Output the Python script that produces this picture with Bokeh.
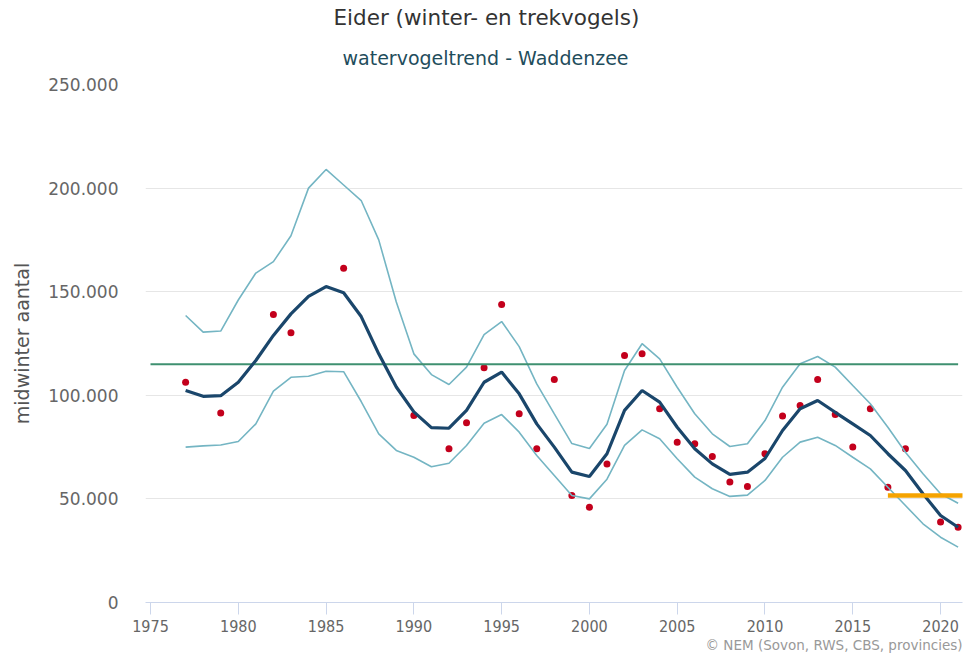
from bokeh.plotting import figure
from bokeh.models import Range1d, FixedTicker, Title, ColumnDataSource
from bokeh.embed import file_html
from bokeh.resources import INLINE

# ---------------- data ----------------
years = list(range(1977, 2022))
trend = [102.3, 99.5, 99.8, 106.3, 116.8, 128.9, 139.3, 147.7, 152.5, 149.5,
         138.0, 120.0, 104.0, 92.0, 84.4, 84.1, 92.7, 106.3, 111.2, 100.7,
         86.2, 75.0, 62.9, 60.8, 71.8, 92.7, 102.3, 96.7, 84.6, 74.2,
         66.9, 61.8, 62.9, 69.5, 83.0, 93.5, 97.5, 91.8, 86.2, 80.6,
         71.8, 63.7, 52.5, 42.0, 36.3]
upper = [138.5, 130.5, 131.0, 146.0, 159.0, 164.5, 177.0, 200.0, 209.0, 201.5,
         194.0, 175.0, 145.0, 120.0, 110.0, 105.2, 113.6, 129.3, 135.6, 123.5,
         105.5, 91.0, 76.7, 74.3, 86.0, 112.0, 124.9, 117.6, 103.9, 91.1,
         81.4, 75.3, 76.6, 87.8, 103.9, 115.2, 118.7, 113.6, 104.7, 95.9,
         84.6, 72.5, 62.1, 52.5, 47.9]
lower = [75.0, 75.6, 76.0, 77.7, 86.2, 102.0, 108.7, 109.2, 111.6, 111.4,
         97.0, 81.4, 73.4, 70.1, 65.5, 67.2, 75.8, 86.5, 90.7, 82.2,
         70.9, 61.3, 51.6, 50.0, 59.5, 75.8, 83.3, 79.0, 69.4, 60.5,
         54.9, 51.2, 51.8, 58.9, 70.1, 77.4, 79.8, 75.8, 70.1, 64.5,
         55.6, 46.8, 38.0, 31.5, 26.7]
count_years = [1977, 1979, 1982, 1983, 1986, 1990, 1992, 1993, 1994, 1995,
               1996, 1997, 1998, 1999, 2000, 2001, 2002, 2003, 2004, 2005,
               2006, 2007, 2008, 2009, 2010, 2011, 2012, 2013, 2014, 2015,
               2016, 2017, 2018, 2020, 2021]
counts = [106.3, 91.5, 139.0, 130.2, 161.3, 90.3, 74.2, 86.7, 113.3, 143.8,
          91.1, 74.2, 107.6, 51.6, 46.0, 66.9, 119.2, 120.0, 93.5, 77.4,
          76.6, 70.5, 58.1, 56.0, 71.8, 90.0, 95.1, 107.6, 90.7, 75.0,
          93.5, 55.6, 74.2, 38.8, 36.3]
ref_years = [1975, 2021]
ref_value = [115.0, 115.0]
target_years = [2017, 2021.3]
target_value = [51.6, 51.6]

x_ticks = [1975, 1980, 1985, 1990, 1995, 2000, 2005, 2010, 2015, 2020]
y_ticks = [0, 50000, 100000, 150000, 200000, 250000]
y_tick_labels = ["0", "50.000", "100.000", "150.000", "200.000", "250.000"]

title_text = "Eider (winter- en trekvogels)"
subtitle_text = "watervogeltrend - Waddenzee"
credit_text = "\u00a9 NEM (Sovon, RWS, CBS, provincies)"
y_label = "midwinter aantal"

k = 1000.0
src = ColumnDataSource(dict(x=years,
                            trend=[v * k for v in trend],
                            upper=[v * k for v in upper],
                            lower=[v * k for v in lower]))
csrc = ColumnDataSource(dict(x=count_years, y=[v * k for v in counts]))

FONT = "DejaVu Sans"

p = figure(width=967, height=656, output_backend="svg", toolbar_location=None,
           x_range=Range1d(1974.715, 2021.25), y_range=Range1d(0, 250000),
           min_border_left=145, min_border_right=5, min_border_top=84,
           min_border_bottom=54)
p.outline_line_color = None
p.background_fill_color = "white"
p.border_fill_color = "white"

# grid
p.xgrid.grid_line_color = None
p.ygrid.grid_line_color = "#e6e6e6"
p.ygrid.grid_line_width = 1

# x axis
p.xaxis.ticker = FixedTicker(ticks=x_ticks)
p.xaxis.axis_line_color = "#ccd6eb"
p.xaxis.major_tick_line_color = "#ccd6eb"
p.xaxis.major_tick_in = 0
p.xaxis.major_tick_out = 12
p.xaxis.minor_tick_line_color = None
p.xaxis.major_label_standoff = 5
p.xaxis.major_label_text_font = "DejaVu Sans Condensed"
p.xaxis.major_label_text_font_size = "16px"
p.xaxis.major_label_text_color = "#666666"

# y axis
p.yaxis.ticker = FixedTicker(ticks=y_ticks)
p.yaxis.major_label_overrides = {t: l for t, l in zip(y_ticks, y_tick_labels)}
p.yaxis.axis_line_color = None
p.yaxis.major_tick_line_color = None
p.yaxis.minor_tick_line_color = None
p.yaxis.major_tick_in = 0
p.yaxis.major_tick_out = 0
p.yaxis.major_label_standoff = 27
p.yaxis.major_label_text_font = FONT
p.yaxis.major_label_text_font_size = "17px"
p.yaxis.major_label_text_color = "#666666"
p.yaxis.axis_label = y_label
p.yaxis.axis_label_text_font = FONT
p.yaxis.axis_label_text_font_size = "19px"
p.yaxis.axis_label_text_font_style = "normal"
p.yaxis.axis_label_text_color = "#555555"
p.yaxis.axis_label_standoff = 12

# glyphs
p.scatter("x", "y", source=csrc, size=7, color="#c3001c", line_color=None)
p.line("x", "upper", source=src, line_color="#74b5c3", line_width=1.6)
p.line("x", "lower", source=src, line_color="#74b5c3", line_width=1.6)
p.line(ref_years, [v * k for v in ref_value], line_color="#3f9070", line_width=2)
p.line("x", "trend", source=src, line_color="#1a466b", line_width=3.2)
p.line(target_years, [v * k for v in target_value], line_color="#f5a300",
       line_width=4.5)

# titles and credit
p.add_layout(Title(text=subtitle_text, align="left", text_font=FONT,
                   text_font_size="19px", text_font_style="normal",
                   text_color="#1f4d5c", standoff=31, offset=197), "above")
p.add_layout(Title(text=title_text, align="left", text_font=FONT,
                   text_font_size="21.5px", text_font_style="normal",
                   text_color="#333333", standoff=0, offset=188), "above")
p.add_layout(Title(text=credit_text, align="right", text_font=FONT,
                   text_font_size="13.5px", text_font_style="normal",
                   text_color="#999999", standoff=0), "below")

open("out.html", "w").write(file_html(p, INLINE))
